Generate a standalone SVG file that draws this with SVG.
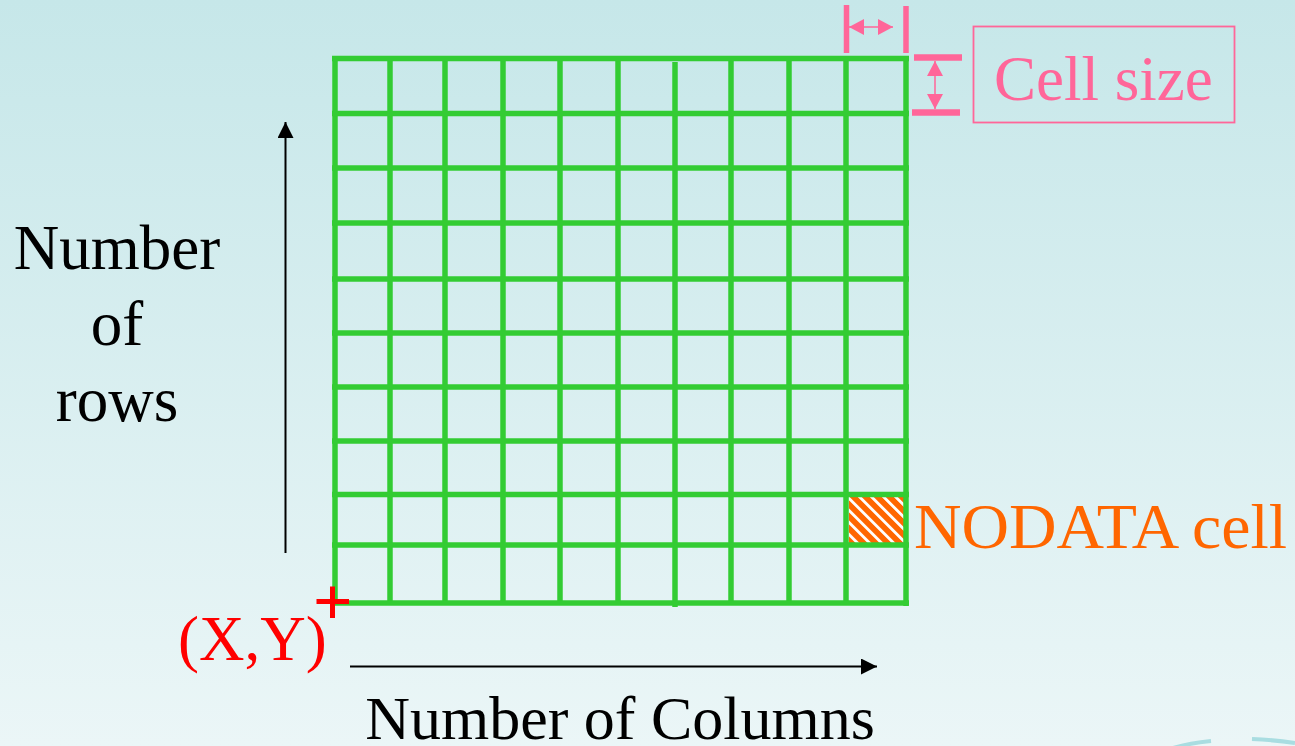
<svg xmlns="http://www.w3.org/2000/svg" width="1295" height="746" viewBox="0 0 1295 746">
  <defs>
    <linearGradient id="bg" x1="0" y1="0" x2="0" y2="1">
      <stop offset="0" stop-color="#c6e7e9"/>
      <stop offset="1" stop-color="#ebf6f7"/>
    </linearGradient>
    <pattern id="hatch" width="8.5" height="8.5" patternUnits="userSpaceOnUse" patternTransform="rotate(-45)">
      <rect width="8.5" height="8.5" fill="#ff6600"/>
      <rect x="0" width="2.8" height="8.5" fill="#ffffff"/>
    </pattern>
    <marker id="arr" viewBox="0 0 16 16" refX="16" refY="8" markerWidth="16" markerHeight="16" markerUnits="userSpaceOnUse" orient="auto">
      <path d="M0,0 L16,8 L0,16 Z" fill="#000"/>
    </marker>
    <marker id="parr" viewBox="0 0 15 16" refX="15" refY="8" markerWidth="15" markerHeight="16" markerUnits="userSpaceOnUse" orient="auto-start-reverse">
      <path d="M0,0 L15,8 L0,16 Z" fill="#ff6699"/>
    </marker>
    <style>
      text { font-family: 'Liberation Serif', 'Times New Roman', Tinos, 'DejaVu Serif', serif; font-size: 63px; }
      .grid line { stroke: #33cc33; stroke-width: 5.5; }
      .pink { stroke: #ff6699; }
    </style>
  </defs>

  <rect width="1295" height="746" fill="url(#bg)"/>
  <path d="M1173,748 Q1190,743 1211,741" fill="none" stroke="#a9dde1" stroke-width="4"/>
  <path d="M1252,739 Q1275,740 1295,743" fill="none" stroke="#a9dde1" stroke-width="4"/>

  <g id="grid" class="grid">
    <rect id="nodata-cell" x="849" y="497" width="55" height="47" fill="url(#hatch)"/>
    <line x1="335" y1="56.5" x2="335" y2="605"/>
    <line x1="390" y1="59" x2="390" y2="603"/>
    <line x1="445" y1="59" x2="445" y2="603"/>
    <line x1="503" y1="59" x2="503" y2="603"/>
    <line x1="560" y1="59" x2="560" y2="603"/>
    <line x1="618" y1="59" x2="618" y2="603"/>
    <line x1="675" y1="62" x2="675" y2="607"/>
    <line x1="731" y1="59" x2="731" y2="603"/>
    <line x1="789" y1="59" x2="789" y2="603"/>
    <line x1="846" y1="59" x2="846" y2="603"/>
    <line x1="906" y1="56" x2="906" y2="606"/>
    <line x1="332" y1="58.5" x2="909" y2="58.5"/>
    <line x1="332" y1="113.5" x2="909" y2="113.5"/>
    <line x1="332" y1="168" x2="909" y2="168"/>
    <line x1="332" y1="223" x2="909" y2="223"/>
    <line x1="332" y1="279" x2="909" y2="279"/>
    <line x1="332" y1="333" x2="909" y2="333"/>
    <line x1="332" y1="387" x2="909" y2="387"/>
    <line x1="332" y1="441" x2="909" y2="441"/>
    <line x1="332" y1="494.5" x2="909" y2="494.5"/>
    <line x1="332" y1="545" x2="909" y2="545"/>
    <line x1="332" y1="603" x2="909" y2="603"/>
  </g>

  <g id="connectors">
    <line x1="285.5" y1="553" x2="285.5" y2="122" stroke="#000" stroke-width="2" marker-end="url(#arr)"/>
    <line x1="350" y1="666.5" x2="877" y2="666.5" stroke="#000" stroke-width="2" marker-end="url(#arr)"/>
    <line x1="849" y1="27" x2="893" y2="27" class="pink" stroke-width="1.5" marker-start="url(#parr)" marker-end="url(#parr)"/>
    <line x1="935" y1="61" x2="935" y2="109" class="pink" stroke-width="1.5" marker-start="url(#parr)" marker-end="url(#parr)"/>
  </g>

  <g id="cell-size">
    <line x1="846.5" y1="5" x2="846.5" y2="53" class="pink" stroke-width="5.5"/>
    <line x1="906" y1="6" x2="906" y2="53" class="pink" stroke-width="5.5"/>
    <line x1="914" y1="57.5" x2="962" y2="57.5" class="pink" stroke-width="6.5"/>
    <line x1="912" y1="112.5" x2="960" y2="112.5" class="pink" stroke-width="6.5"/>
    <rect x="973.5" y="26.5" width="261" height="96" fill="none" class="pink" stroke-width="1.8"/>
    <text x="994" y="100" fill="#ff6699">Cell size</text>
  </g>

  <g id="nodata-label">
    <text x="914" y="548" fill="#ff6600" style="font-size:64px" textLength="373" lengthAdjust="spacingAndGlyphs">NODATA cell</text>
  </g>

  <g id="origin">
    <line x1="316.5" y1="601.5" x2="349" y2="601.5" stroke="#ff0000" stroke-width="5"/>
    <line x1="332.5" y1="586.5" x2="332.5" y2="618" stroke="#ff0000" stroke-width="5"/>
    <text x="178" y="660" fill="#ff0000">(X,Y)</text>
  </g>

  <g id="rows-label">
    <text x="117" y="269" text-anchor="middle" fill="#000">Number</text>
    <text x="117" y="345" text-anchor="middle" fill="#000">of</text>
    <text x="117" y="421" text-anchor="middle" fill="#000">rows</text>
  </g>

  <g id="columns-label">
    <text x="620" y="739" text-anchor="middle" fill="#000" style="font-size:62px">Number of Columns</text>
  </g>
</svg>
